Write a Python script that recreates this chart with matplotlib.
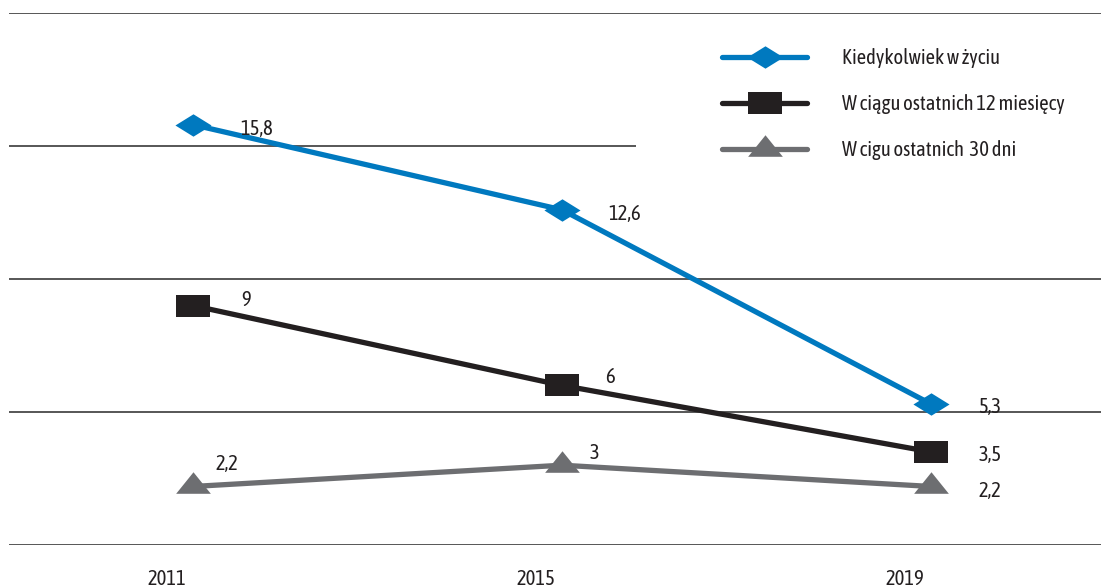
import numpy as np
import matplotlib
matplotlib.use("Agg")
import matplotlib.pyplot as plt
import matplotlib.transforms as mtransforms
from matplotlib.path import Path
from matplotlib.patches import Rectangle

# ----------------------------------------------------------------------------------------------------------------------
years = ["2011", "2015", "2019"]
ever = [15.8, 12.6, 5.3]
last_12m = [9, 6, 3.5]
last_30d = [2.2, 3, 2.2]
series_names = ["Kiedykolwiek w życiu", "W ciągu ostatnich 12 miesięcy", "W cigu ostatnich  30 dni"]
# ----------------------------------------------------------------------------------------------------------------------

plt.rcParams["font.family"] = ["Asap Condensed", "DejaVu Sans"]

BLUE = "#0079bf"
BLACK = "#231f20"
GREY = "#6d6e71"
TXT = "#231f20"
FS = 14.8

# Wide, flat markers like the original
diamond = Path([(-1, 0), (0, 0.62), (1, 0), (0, -0.62), (-1, 0)],
               [Path.MOVETO, Path.LINETO, Path.LINETO, Path.LINETO, Path.CLOSEPOLY])
square = Path([(-1, -0.66), (1, -0.66), (1, 0.66), (-1, 0.66), (-1, -0.66)],
              [Path.MOVETO, Path.LINETO, Path.LINETO, Path.LINETO, Path.CLOSEPOLY])
triangle = Path([(-1, -0.42), (1, -0.42), (0, 0.82), (-1, -0.42)],
                [Path.MOVETO, Path.LINETO, Path.LINETO, Path.CLOSEPOLY])

W, H = 1101, 587
fig = plt.figure(figsize=(W / 100, H / 100), dpi=100)
ax = fig.add_axes([8.5 / W, 42 / H, 1107 / W, 532 / H])

x = np.arange(len(years))
styles = [
    (ever, BLUE, diamond, 26),
    (last_12m, BLACK, square, 24.5),
    (last_30d, GREY, triangle, 25),
]
for (vals, col, mk, ms), name in zip(styles, series_names):
    ax.plot(x, vals, color=col, lw=3.8, marker=mk, markersize=ms,
            markerfacecolor=col, markeredgecolor=col, markeredgewidth=0,
            solid_capstyle="round", label=name, zorder=3)

# Value labels, offsets in points
offsets = [
    [(34, -3), (33, -3), (34, -2)],
    [(35, 4), (31, 6), (34, -2)],
    [(16, 16), (20, 9), (34, -3)],
]
for (vals, _, _, _), offs in zip(styles, offsets):
    for xi, v, (dx, dy) in zip(x, vals, offs):
        ax.annotate(str(v).replace(".", ","), (xi, v), xytext=(dx, dy),
                    textcoords="offset points", ha="left", va="center",
                    fontsize=FS, color=TXT, zorder=4)

ax.set_xlim(-0.5, 2.5)
ax.set_ylim(0, 20)
ax.set_yticks([0, 5, 10, 15, 20])
ax.yaxis.grid(True, color="#3a3a3a", lw=1.2)
ax.set_axisbelow(True)
ax.tick_params(axis="y", left=False, labelleft=False)
ax.set_xticks(x)
ax.set_xticklabels(years, fontsize=FS, color=TXT)
ax.tick_params(axis="x", length=0, pad=17)
# Year labels sit a little left of the markers in the original
shift = mtransforms.ScaledTranslation(-0.26, 0, fig.dpi_scale_trans)
for lbl in ax.get_xticklabels():
    lbl.set_transform(lbl.get_transform() + shift)
for s in ax.spines.values():
    s.set_visible(False)

# White box behind the legend hides part of a gridline
ax.add_patch(Rectangle((627 / 1107, 0.70), 0.5, 0.29, transform=ax.transAxes,
                       facecolor="white", edgecolor="none", zorder=2))

leg = ax.legend(loc="upper left", bbox_to_anchor=(713.5 / 1107, 1 - 35 / 532),
                frameon=False, fontsize=FS, borderpad=0, borderaxespad=0,
                handlelength=4.15, handletextpad=1.7, labelspacing=1.27, numpoints=1)
for t in leg.get_texts():
    t.set_color(TXT)
leg.set_zorder(5)

fig.savefig("out.png", dpi=100)
